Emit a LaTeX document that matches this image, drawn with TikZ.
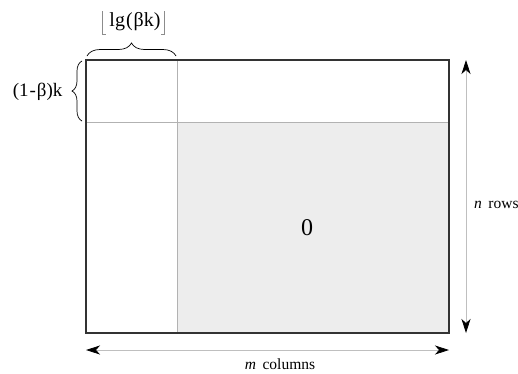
\documentclass[tikz,border=0pt]{standalone}
\usepackage{fontspec}
\setmainfont{Liberation Serif}
\usetikzlibrary{arrows.meta,decorations.pathreplacing}
\begin{document}
\begin{tikzpicture}[x=1pt,y=-1pt,
  frame/.style={draw=black!80,line width=1.2pt},
  divider/.style={draw=black!30,line width=0.5pt},
  floorbar/.style={draw=black!45,line width=0.6pt},
  dimline/.style={draw=black!25,line width=0.8pt,{Stealth[length=14pt,width=9pt,inset=4pt,black]}-{Stealth[length=14pt,width=9pt,inset=4pt,black]}},
  curly/.style={draw=black,line width=0.7pt,decorate,decoration={brace,amplitude=#1}},
  curly/.default=8pt,
  lbl/.style={font=\fontsize{15.5}{18}\selectfont,inner sep=1pt}]
\useasboundingbox (0,0) rectangle (518,373);
% matrix outline and zero block
\coordinate (tl) at (86,60);
\coordinate (br) at (449,333);
\coordinate (cut) at (177,122);
\fill[black!7] (cut) rectangle (br);
\draw[divider] (177,60) -- (177,333);
\draw[divider] (86,122) -- (449,122);
\draw[frame] (tl) rectangle (br);
\node[font=\fontsize{24}{28}\selectfont] (zero) at (307,228) {0};
% dimension arrows
\coordinate (rtop) at (466,60);
\coordinate (rbot) at (466,333);
\draw[dimline] (rtop) -- (rbot);
\node[lbl,anchor=west] (rows) at (473,205) {\textit{n}\, rows};
\coordinate (cleft) at (86,350);
\coordinate (cright) at (449,350);
\draw[dimline] (cleft) -- (cright);
\node[lbl] (cols) at (280,364) {\textit{m}\, columns};
% top brace with floor-bracketed label
\coordinate (btl) at (87,56);
\coordinate (btr) at (176,56);
\draw[curly=13pt] (btl) -- (btr);
\node[font=\fontsize{20}{24}\selectfont,inner sep=0pt] (lg) at (135,22) {lg\kern1pt(\kern1ptβk)};
\draw[floorbar] ([xshift=-7pt]lg.west |- 0,11) -- ([xshift=-7pt]lg.west |- 0,34) -- ++(3.5,0);
\draw[floorbar] ([xshift=4pt]lg.east |- 0,11) -- ([xshift=4pt]lg.east |- 0,34) -- ++(-3.5,0);
% left brace
\coordinate (lbb) at (82,121);
\coordinate (lbt) at (82,61);
\draw[curly=10pt] (lbb) -- (lbt);
\node[font=\fontsize{19}{22}\selectfont,anchor=east] (beta) at (66,92) {(1\kern1pt-\kern1ptβ)k};
\end{tikzpicture}
\end{document}
